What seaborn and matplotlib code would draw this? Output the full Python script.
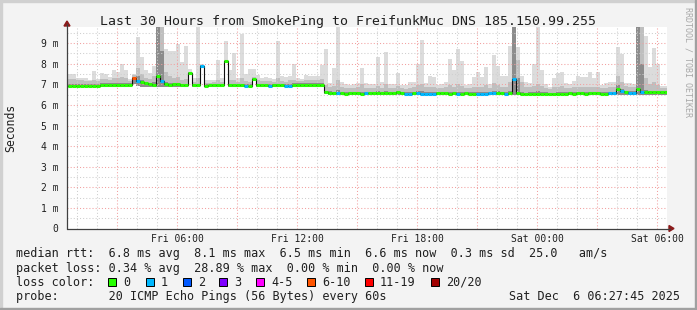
import numpy as np
import pandas as pd
import matplotlib
matplotlib.use("Agg")
import matplotlib.pyplot as plt
import seaborn as sns
from matplotlib.patches import Rectangle, Polygon
from matplotlib.lines import Line2D

# ---------------- data ----------------
# 12-minute bins; first bin starts 0.35 h after Fri 00:00
bin_start_hour = 0.35
bin_hours = 0.2

median_ms = [
    6.94, 6.94, 6.94, 6.94, 6.92, 6.92, 6.92, 6.92, 6.92, 6.97,
    6.97, 6.97, 6.97, 6.97, 6.97, 6.97, 6.97, 7.31, 7.17, 7.11,
    7.05, 7.02, 6.98, 7.38, 7.14, 7.00, 6.98, 7.03, 7.00, 6.95,
    6.95, 7.57, 6.95, 6.95, 7.88, 6.93, 6.95, 6.95, 6.95, 6.95,
    8.12, 6.95, 6.95, 6.95, 6.95, 6.93, 6.93, 7.28, 6.95, 6.95,
    6.95, 6.93, 6.95, 6.95, 6.95, 6.93, 6.93, 6.99, 6.99, 6.99,
    6.99, 6.99, 6.99, 6.99, 6.99, 6.62, 6.60, 6.58, 6.57, 6.58,
    6.55, 6.57, 6.58, 6.57, 6.55, 6.57, 6.58, 6.58, 6.57, 6.58,
    6.57, 6.57, 6.58, 6.62, 6.57, 6.55, 6.55, 6.57, 6.57, 6.55,
    6.55, 6.55, 6.55, 6.57, 6.58, 6.57, 6.55, 6.57, 6.55, 6.55,
    6.57, 6.55, 6.55, 6.55, 6.55, 6.55, 6.57, 6.58, 6.58, 6.57,
    6.55, 6.57, 7.28, 6.57, 6.55, 6.53, 6.55, 6.55, 6.55, 6.55,
    6.55, 6.55, 6.53, 6.55, 6.55, 6.55, 6.57, 6.55, 6.57, 6.57,
    6.55, 6.57, 6.57, 6.57, 6.55, 6.55, 6.57, 6.57, 6.79, 6.68,
    6.62, 6.60, 6.60, 6.79, 6.65, 6.63, 6.62, 6.62, 6.62, 6.62,
    6.62,
]

# loss colour class per bin (0 = "0", 1 = "1", 5 = "6-10")
loss_class = [int(c) for c in (
    "0000000000" "0000000510" "0000100000" "0000100000" "0000010000"
    "0100011000" "0000000010" "0000010000" "0000011011" "1110000010"
    "0001111100" "1010000000" "0000000000" "0000001101" "0110100000"
    "0")]

smoke_max = [
    7.50, 7.50, 7.50, 7.30, 7.30, 7.30, 7.20, 7.63, 7.25, 7.55,
    7.50, 7.35, 7.67, 7.60, 7.97, 7.70, 7.25, 7.50, 9.30, 8.33,
    7.70, 7.55, 7.90, 9.80, 9.80, 8.72, 8.60, 8.60, 8.95, 8.10,
    8.85, 7.76, 7.30, 9.80, 8.00, 7.20, 7.20, 7.20, 8.17, 7.30,
    9.09, 7.70, 8.50, 7.30, 9.46, 7.50, 7.76, 7.76, 7.46, 7.30,
    7.35, 7.30, 7.25, 9.09, 7.40, 7.35, 7.40, 8.00, 7.30, 7.25,
    7.44, 7.40, 7.42, 7.40, 7.93, 8.73, 7.05, 7.81, 9.80, 7.10,
    7.00, 6.98, 7.00, 7.05, 7.80, 7.05, 7.00, 7.00, 8.33, 7.10,
    8.57, 7.00, 7.00, 7.53, 6.95, 6.95, 7.10, 7.10, 8.00, 9.14,
    7.05, 7.40, 7.35, 6.95, 7.00, 7.10, 8.25, 7.70, 8.70, 8.12,
    6.95, 7.00, 7.35, 7.60, 7.35, 7.85, 7.00, 8.41, 7.90, 7.40,
    7.40, 8.85, 9.80, 8.80, 7.40, 7.10, 7.05, 8.00, 9.80, 7.70,
    7.00, 6.88, 7.30, 7.55, 7.60, 7.05, 7.00, 7.15, 7.40, 7.35,
    7.35, 7.60, 7.30, 7.60, 6.95, 7.05, 7.10, 7.10, 8.80, 8.45,
    7.05, 7.05, 7.00, 9.80, 9.80, 9.35, 7.85, 8.77, 8.00, 6.90,
    6.90,
]

smoke_mid = [
    7.28, 7.28, 7.25, 7.20, 7.20, 7.15, 7.15, 7.20, 7.15, 7.25,
    7.25, 7.20, 7.30, 7.30, 7.35, 7.30, 7.15, 7.45, 7.80, 7.50,
    7.30, 7.25, 7.40, 9.80, 9.80, 7.60, 7.40, 7.30, 7.35, 7.20,
    7.25, 7.62, 7.10, 7.30, 7.95, 7.05, 7.05, 7.10, 7.20, 7.10,
    8.20, 7.20, 7.20, 7.10, 7.30, 7.15, 7.10, 7.35, 7.20, 7.15,
    7.15, 7.15, 7.10, 7.30, 7.15, 7.10, 7.20, 7.20, 7.15, 7.15,
    7.20, 7.20, 7.20, 7.20, 7.25, 6.95, 6.85, 6.90, 7.20, 6.85,
    6.80, 6.80, 6.82, 6.85, 7.00, 6.82, 6.80, 6.82, 6.90, 6.82,
    7.00, 6.82, 6.80, 6.90, 6.80, 6.78, 6.82, 6.85, 6.95, 7.00,
    6.85, 6.88, 6.85, 6.80, 6.82, 6.85, 6.95, 6.88, 7.00, 6.90,
    6.80, 6.82, 6.85, 6.88, 6.85, 6.95, 6.82, 7.05, 6.95, 6.88,
    6.88, 7.10, 9.80, 8.20, 7.10, 6.88, 6.85, 6.90, 7.00, 6.90,
    6.82, 6.75, 6.85, 6.88, 6.90, 6.82, 6.80, 6.85, 6.88, 6.85,
    6.85, 6.88, 6.85, 6.88, 6.80, 6.82, 6.85, 6.85, 7.40, 7.10,
    6.90, 6.88, 6.85, 9.80, 9.80, 7.30, 7.00, 7.10, 6.95, 6.80,
    6.80,
]

smoke_dark = [
    7.02, 7.02, 7.00, 7.00, 7.00, 7.00, 7.00, 7.02, 7.02, 7.05,
    7.05, 7.05, 7.05, 7.05, 7.08, 7.05, 7.05, 7.35, 7.40, 7.20,
    7.10, 7.08, 7.10, 9.80, 8.60, 7.10, 7.05, 7.08, 7.08, 7.02,
    7.02, 7.60, 7.00, 7.02, 7.92, 7.00, 7.00, 7.00, 7.02, 7.00,
    8.15, 7.02, 7.02, 7.00, 7.02, 7.00, 7.00, 7.30, 7.02, 7.02,
    7.02, 7.00, 7.00, 7.02, 7.02, 7.00, 7.00, 7.05, 7.05, 7.05,
    7.05, 7.05, 7.05, 7.05, 7.05, 6.68, 6.66, 6.65, 6.70, 6.65,
    6.62, 6.64, 6.65, 6.64, 6.65, 6.64, 6.65, 6.65, 6.66, 6.65,
    6.66, 6.64, 6.65, 6.68, 6.64, 6.62, 6.62, 6.64, 6.66, 6.66,
    6.62, 6.62, 6.62, 6.64, 6.65, 6.64, 6.65, 6.64, 6.65, 6.62,
    6.64, 6.62, 6.62, 6.62, 6.62, 6.64, 6.64, 6.66, 6.66, 6.64,
    6.62, 6.66, 9.80, 7.30, 6.65, 6.60, 6.62, 6.64, 6.66, 6.62,
    6.62, 6.60, 6.60, 6.62, 6.62, 6.62, 6.64, 6.62, 6.64, 6.64,
    6.62, 6.64, 6.64, 6.64, 6.62, 6.62, 6.64, 6.64, 6.95, 6.75,
    6.68, 6.66, 6.66, 9.80, 8.00, 6.72, 6.68, 6.68, 6.68, 6.68,
    6.68,
]

smoke_min = ([6.88] * 17 + [7.00, 6.92] + [6.88] * 12 + [7.50] + [6.88] * 2
             + [7.82] + [6.88] * 5 + [8.05] + [6.88] * 6 + [7.20]
             + [6.88] * 17 + [6.52] + [6.48] * 85)

loss_labels = ["0", "1", "2", "3", "4-5", "6-10", "11-19", "20/20"]
loss_colors = ["#26ff00", "#00b8ff", "#0059ff", "#7e00ff",
               "#ff00ff", "#ff5500", "#ff0000", "#a10000"]

xtick_hours = [6, 12, 18, 24, 30]
xtick_labels = ["Fri 06:00", "Fri 12:00", "Fri 18:00", "Sat 00:00", "Sat 06:00"]
ytick_values = [0, 1, 2, 3, 4, 5, 6, 7, 8, 9]
ytick_labels = ["0"] + [f"{v} m" for v in ytick_values[1:]]

title = "Last 30 Hours from SmokePing to FreifunkMuc DNS 185.150.99.255"
legend_lines = [
    "median rtt:  6.8 ms avg  8.1 ms max  6.5 ms min  6.6 ms now  0.3 ms sd  25.0   am/s",
    "packet loss: 0.34 % avg  28.89 % max  0.00 % min  0.00 % now",
    "loss color:",
    "probe:       20 ICMP Echo Pings (56 Bytes) every 60s",
]
stamp = "Sat Dec  6 06:27:45 2025"

# ---------------- figure ----------------
sns.set_style("white")
plt.rcParams["font.family"] = ["DejaVu Sans Mono", "DejaVu Sans"]

W, H = 697, 310
fig = plt.figure(figsize=(W / 100, H / 100), dpi=100, facecolor="#f3f3f3")
X0, X1, Y0, Y1 = 67, 667, 228.5, 27
ax = fig.add_axes([X0 / W, 1 - Y0 / H, (X1 - X0) / W, (Y0 - Y1) / H])
ax.set_facecolor("white")
ymax = (Y0 - Y1) / 20.6
ax.set_xlim(0.5, 30.5)
ax.set_ylim(0, ymax)
for s in ax.spines.values():
    s.set_visible(False)

n = len(median_ms)
df = pd.DataFrame({
    "start": bin_start_hour + bin_hours * np.arange(n),
    "median": median_ms, "loss": loss_class,
    "smin": smoke_min, "sdark": smoke_dark, "smid": smoke_mid, "smax": smoke_max,
})

# smoke layers
for top, col, z in [("smax", "#dcdcdc", 1), ("smid", "#bfbfbf", 2), ("sdark", "#8c8c8c", 3)]:
    ax.bar(df["start"], df[top] - df["smin"], bottom=df["smin"], width=bin_hours,
           align="edge", color=col, linewidth=0, antialiased=False, zorder=z)

# grid
for h in range(1, 31):
    major = h % 3 == 0
    ax.axvline(h, color="#f2a0a0" if major else "#cfcfcf", lw=0.75,
               ls=(0, (1, 2)), zorder=4)
for k in range(1, 20):
    v = k * 0.5
    if v >= ymax:
        continue
    major = k % 2 == 0
    ax.axhline(v, color="#f2a0a0" if major else "#cfcfcf", lw=0.75,
               ls=(0, (1, 2)), zorder=4)

# median: black step line + loss coloured segments
step = pd.DataFrame({"t": np.append(df["start"], df["start"].iloc[-1] + bin_hours),
                     "m": np.append(df["median"], df["median"].iloc[-1])})
sns.lineplot(data=step, x="t", y="m", drawstyle="steps-post", color="#101010",
             linewidth=0.8, estimator=None, sort=False, ax=ax, zorder=5)
ax.hlines(df["median"], df["start"], df["start"] + bin_hours,
          colors=[loss_colors[c] for c in df["loss"]], linewidth=2.2,
          capstyle="butt", zorder=6)

# ticks
ax.set_xticks(xtick_hours)
ax.set_xticklabels(xtick_labels, fontsize=7, color="#202020")
ax.set_yticks(ytick_values)
ax.set_yticklabels(ytick_labels, fontsize=7, color="#202020")
ax.tick_params(axis="x", length=0, pad=4)
ax.tick_params(axis="y", length=0, pad=6)
ax.set_xlabel("")
ax.set_ylabel("")


def P(x, y):
    return (x / W, 1 - y / H)


# axis lines and arrows
axis_col = "#404040"
arrow_col = "#8b1a1a"
fig.add_artist(Line2D([X0 / W, 670 / W], [1 - Y0 / H] * 2, color=axis_col, lw=0.9))
fig.add_artist(Line2D([X0 / W] * 2, [1 - Y0 / H, 1 - 24 / H], color=axis_col, lw=0.9))
fig.add_artist(Polygon([P(669, 225.5), P(669, 231.5), P(674, 228.5)], closed=True,
                       color=arrow_col, transform=fig.transFigure))
fig.add_artist(Polygon([P(64, 26), P(70, 26), P(67, 21)], closed=True,
                       color=arrow_col, transform=fig.transFigure))

# texts
fig.text(*P(348, 24.5), title, ha="center", va="baseline", fontsize=9.5, color="#202020")
fig.text(*P(11, 128), "Seconds", ha="center", va="center", rotation=90,
         fontsize=8.3, color="#202020")
fig.text(*P(688, 62), "RRDTOOL / TOBI OETIKER", ha="center", va="center",
         rotation=270, fontsize=6, color="#a8a8a8")

base_y = [257.5, 271.7, 285.7, 300.0]
for txt, by in zip(legend_lines, base_y):
    fig.text(*P(16, by), txt, ha="left", va="baseline", fontsize=8.5, color="#202020")
fig.text(*P(680, 300.0), stamp, ha="right", va="baseline", fontsize=8.5, color="#202020")

box_x = [108, 146, 183, 219, 256, 307, 365, 431]
for bx, lab, col in zip(box_x, loss_labels, loss_colors):
    fig.add_artist(Rectangle(P(bx, 285.5), 8 / W, 8 / H, facecolor=col,
                             edgecolor="black", lw=0.7, transform=fig.transFigure))
    fig.text(*P(bx + 15, 285.7), lab, ha="left", va="baseline", fontsize=8.5,
             color="#202020")

# 3D frame
fig.add_artist(Rectangle((0, 0), 2 / W, 1, color="#d0d0d0", transform=fig.transFigure))
fig.add_artist(Rectangle((0, 1 - 2 / H), 1, 2 / H, color="#d0d0d0", transform=fig.transFigure))
fig.add_artist(Rectangle((1 - 2 / W, 0), 2 / W, 1, color="#a0a0a0", transform=fig.transFigure))
fig.add_artist(Rectangle((0, 0), 1, 2 / H, color="#a0a0a0", transform=fig.transFigure))

fig.savefig("out.png", dpi=100, facecolor=fig.get_facecolor())
